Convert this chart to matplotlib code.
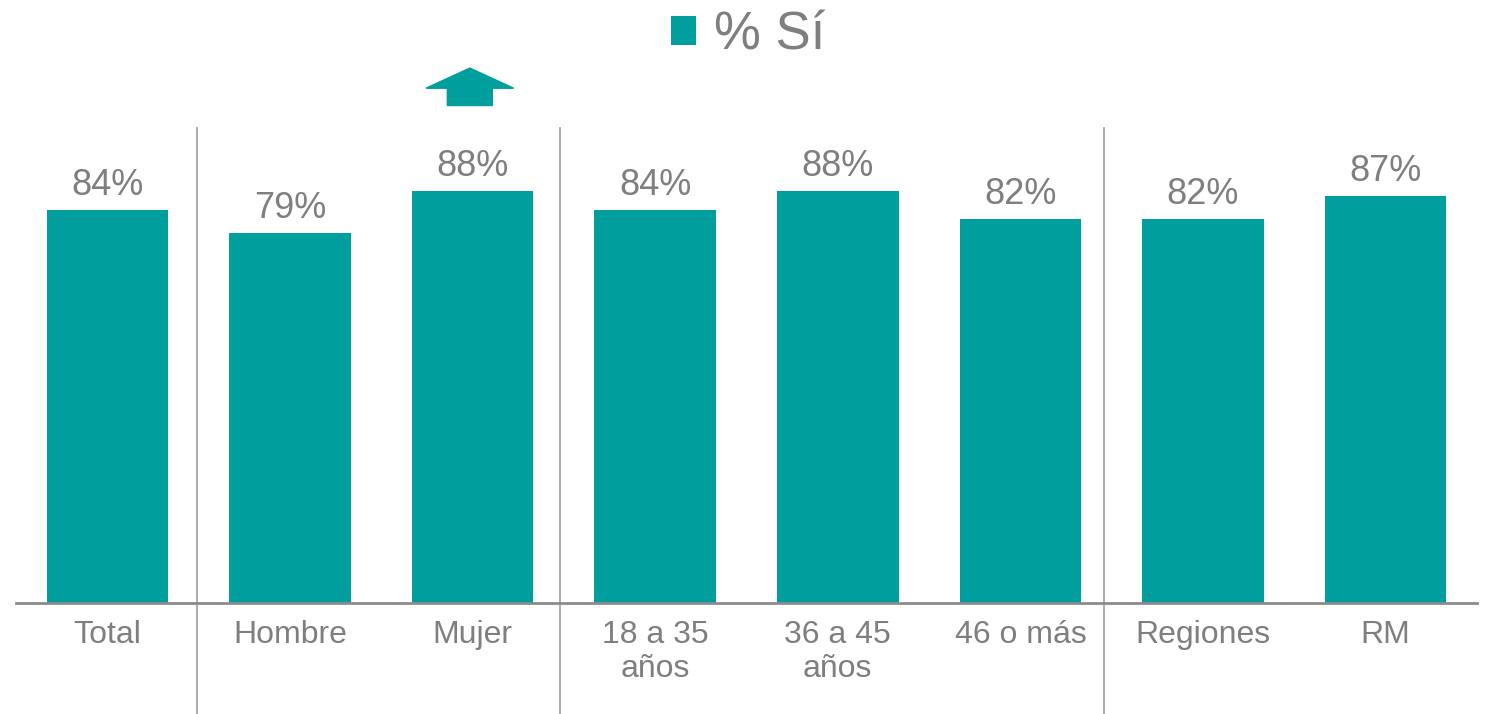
import matplotlib
matplotlib.use('Agg')
import matplotlib.pyplot as plt
from matplotlib.patches import FancyArrow, Patch

categories = ['Total', 'Hombre', 'Mujer', '18 a 35\naños', '36 a 45\naños',
              '46 o más', 'Regiones', 'RM']
values = [84, 79, 88, 84, 88, 82, 82, 87]
labels = ['84%', '79%', '88%', '84%', '88%', '82%', '82%', '87%']
group_separators = [0.49, 2.48, 5.46]
arrow_category = 2

teal = '#009E9C'
gray_text = '#7F7F7F'

plt.rcParams['font.family'] = ['Liberation Sans', 'DejaVu Sans']

W, H = 1489, 714
fig = plt.figure(figsize=(W / 100, H / 100), dpi=100)
# axes: x from 16 to 1477 px, baseline at 603 px, 100% = 468 px
ax = fig.add_axes([16 / W, (H - 603) / H, (1477 - 16) / W, 468 / H])

x = range(len(categories))
bars = ax.bar(x, values, width=0.665, color=teal)
ax.bar_label(bars, labels=labels, padding=5, fontsize=26, color=gray_text)

ax.set_xlim(-0.5, 7.5)
ax.set_ylim(0, 100)
ax.set_xticks(list(x))
ax.set_xticklabels(categories, fontsize=23, color=gray_text, linespacing=1.2)
ax.tick_params(axis='x', length=0, pad=12)
ax.set_yticks([])
for s in ['top', 'right', 'left']:
    ax.spines[s].set_visible(False)
ax.spines['bottom'].set_color('#8C8C8C')
ax.spines['bottom'].set_linewidth(2)

for sx in group_separators:
    ax.plot([sx, sx], [-24, 101.5], color='#A6A6A6', lw=1.3, clip_on=False)

arrow = FancyArrow(arrow_category - 0.015, 106.3, 0, 8.0, width=0.246,
                   head_width=0.48, head_length=4.3, length_includes_head=True,
                   color=teal, clip_on=False)
ax.add_patch(arrow)

handle = Patch(facecolor=teal, edgecolor='none')
fig.legend([handle], ['% Sí'], loc='center', bbox_to_anchor=(748 / W, 1 - 35 / H),
           frameon=False, fontsize=38, labelcolor=gray_text,
           handlelength=0.47, handleheight=0.47, handletextpad=0.35)

fig.savefig('out.png', dpi=100)
